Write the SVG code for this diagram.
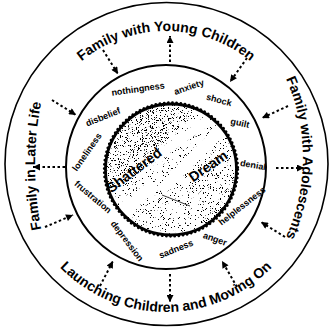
<svg xmlns="http://www.w3.org/2000/svg" width="331" height="328" viewBox="0 0 331 328">
<style>
.t{font-family:"Liberation Sans",Arial,sans-serif;font-weight:bold;fill:#000}
.big{font-size:14px}
.w{font-size:9px}
.dream{font-size:14px}
.arr{stroke:#000;stroke-width:2;stroke-dasharray:2.5 2.5;fill:none;marker-end:url(#ah)}
.ring{fill:none;stroke:#000}
</style>
<defs>
<marker id="ah" markerUnits="userSpaceOnUse" viewBox="0 0 10 10" refX="10" refY="5" markerWidth="8" markerHeight="7" orient="auto">
<path d="M0,0 L10,5 L0,10 z" fill="#000"/>
</marker>
<filter id="stip" x="0" y="0" width="1" height="1" color-interpolation-filters="sRGB">
<feTurbulence type="fractalNoise" baseFrequency="1.4" numOctaves="2" seed="7" result="t"/>
<feColorMatrix in="t" type="matrix" values="0 0 0 0 0  0 0 0 0 0  0 0 0 0 0  30 0 0 0 -19.8" result="d"/>
<feComposite in="d" in2="SourceAlpha" operator="in"/>
</filter>
<filter id="stip2" x="0" y="0" width="1" height="1" color-interpolation-filters="sRGB">
<feTurbulence type="fractalNoise" baseFrequency="1.5" numOctaves="2" seed="21" result="t"/>
<feColorMatrix in="t" type="matrix" values="0 0 0 0 0  0 0 0 0 0  0 0 0 0 0  30 0 0 0 -19.2" result="d"/>
<feComposite in="d" in2="SourceAlpha" operator="in"/>
</filter>
<clipPath id="inner"><circle cx="171" cy="169.5" r="65"/></clipPath>
<path id="pTop" d="M33,164 A133,133 0 0 1 299,164"/>
<path id="pLeft" d="M45,246 A326,326 0 0 1 45,86"/>
<path id="pRight" d="M280.7,68 A193,193 0 0 1 280.7,248"/>
<path id="pBottom" d="M18,164 A148,148 0 0 0 314,164"/>
</defs>

<g id="outer-ring">
<circle class="ring" cx="166.5" cy="164" r="161.5" stroke-width="1.6"/>
</g>
<g id="middle-ring">
<ellipse class="ring" cx="166" cy="167" rx="100" ry="102" stroke-width="2"/>
</g>

<g id="dream-circle">
<circle cx="171" cy="169.5" r="65" fill="#fff"/>
<circle cx="171" cy="169.5" r="65" fill="#000" filter="url(#stip)"/>
<g clip-path="url(#inner)">
<path d="M100,100 L205,100 L150,160 L100,195 z" fill="#000" filter="url(#stip2)"/>
<path d="M190,240 L240,240 L240,170 z" fill="#000" filter="url(#stip2)"/>
<path d="M112,214 L150,180 L158,186 L216,126 L232,128 L166,193 L158,189 L122,221 z" fill="#fff"/>
<path d="M148,157 L205,117 L214,122 L156,163 z" fill="#fff"/>
<path d="M162,195 L190,206" stroke="#000" stroke-width="0.8"/>
</g>
<circle class="ring" cx="171" cy="169.5" r="65.5" stroke-width="2.8"/>
<circle class="ring" cx="171" cy="169.5" r="66.8" stroke-width="2.8" stroke-dasharray="0.01 4.2" stroke-linecap="round"/>
<text class="t dream" transform="translate(134,170) rotate(-37)" text-anchor="middle" y="5">Shattered</text>
<text class="t dream" transform="translate(208,166) rotate(-35)" text-anchor="middle" y="5">Dream</text>
</g>

<g id="stage-young">
<text class="t big"><textPath href="#pTop" startOffset="50%" text-anchor="middle">Family with Young Children</textPath></text>
</g>
<g id="stage-adolescents">
<text class="t big"><textPath href="#pRight" startOffset="50%" text-anchor="middle">Family with Adolescents</textPath></text>
</g>
<g id="stage-launching">
<text class="t big"><textPath href="#pBottom" startOffset="50%" text-anchor="middle">Launching Children and Moving On</textPath></text>
</g>
<g id="stage-later">
<text class="t big"><textPath href="#pLeft" startOffset="50%" text-anchor="middle">Family in Later Life</textPath></text>
</g>

<g id="feelings">
<text class="t w" text-anchor="middle" y="3" transform="translate(138,89) rotate(-8)">nothingness</text>
<text class="t w" text-anchor="middle" y="3" transform="translate(189,87) rotate(-19)">anxiety</text>
<text class="t w" text-anchor="middle" y="3" transform="translate(219,100) rotate(15)">shock</text>
<text class="t w" text-anchor="middle" y="3" transform="translate(240,123) rotate(12)">guilt</text>
<text class="t w" text-anchor="middle" y="3" transform="translate(253,165) rotate(10)">denial</text>
<text class="t w" text-anchor="middle" y="3" transform="translate(242,206) rotate(-38)">helplessness</text>
<text class="t w" text-anchor="middle" y="3" transform="translate(215,239) rotate(20)">anger</text>
<text class="t w" text-anchor="middle" y="3" transform="translate(176,249) rotate(-22)">sadness</text>
<text class="t w" text-anchor="middle" y="3" transform="translate(127,241) rotate(53)">depression</text>
<text class="t w" text-anchor="middle" y="3" transform="translate(93,197) rotate(40)">frustration</text>
<text class="t w" text-anchor="middle" y="3" transform="translate(87,152) rotate(-55)">loneliness</text>
<text class="t w" text-anchor="middle" y="3" transform="translate(103,117) rotate(-22)">disbelief</text>
</g>

<g id="connectors">
<path class="arr" d="M170,62 L170,36"/>
<path class="arr" d="M103,50 L118,74"/>
<path class="arr" d="M247,58 L230,82"/>
<path class="arr" d="M288,106 L262,118"/>
<path class="arr" d="M276,168 L304,168"/>
<path class="arr" d="M285,237 L261,222"/>
<path class="arr" d="M237,287 L222,261"/>
<path class="arr" d="M170,274 L170,302"/>
<path class="arr" d="M100,286 L113,261"/>
<path class="arr" d="M45,227 L73,215"/>
<path class="arr" d="M65,167 L33,167"/>
<path class="arr" d="M52,100 L76,115"/>
</g>
</svg>
